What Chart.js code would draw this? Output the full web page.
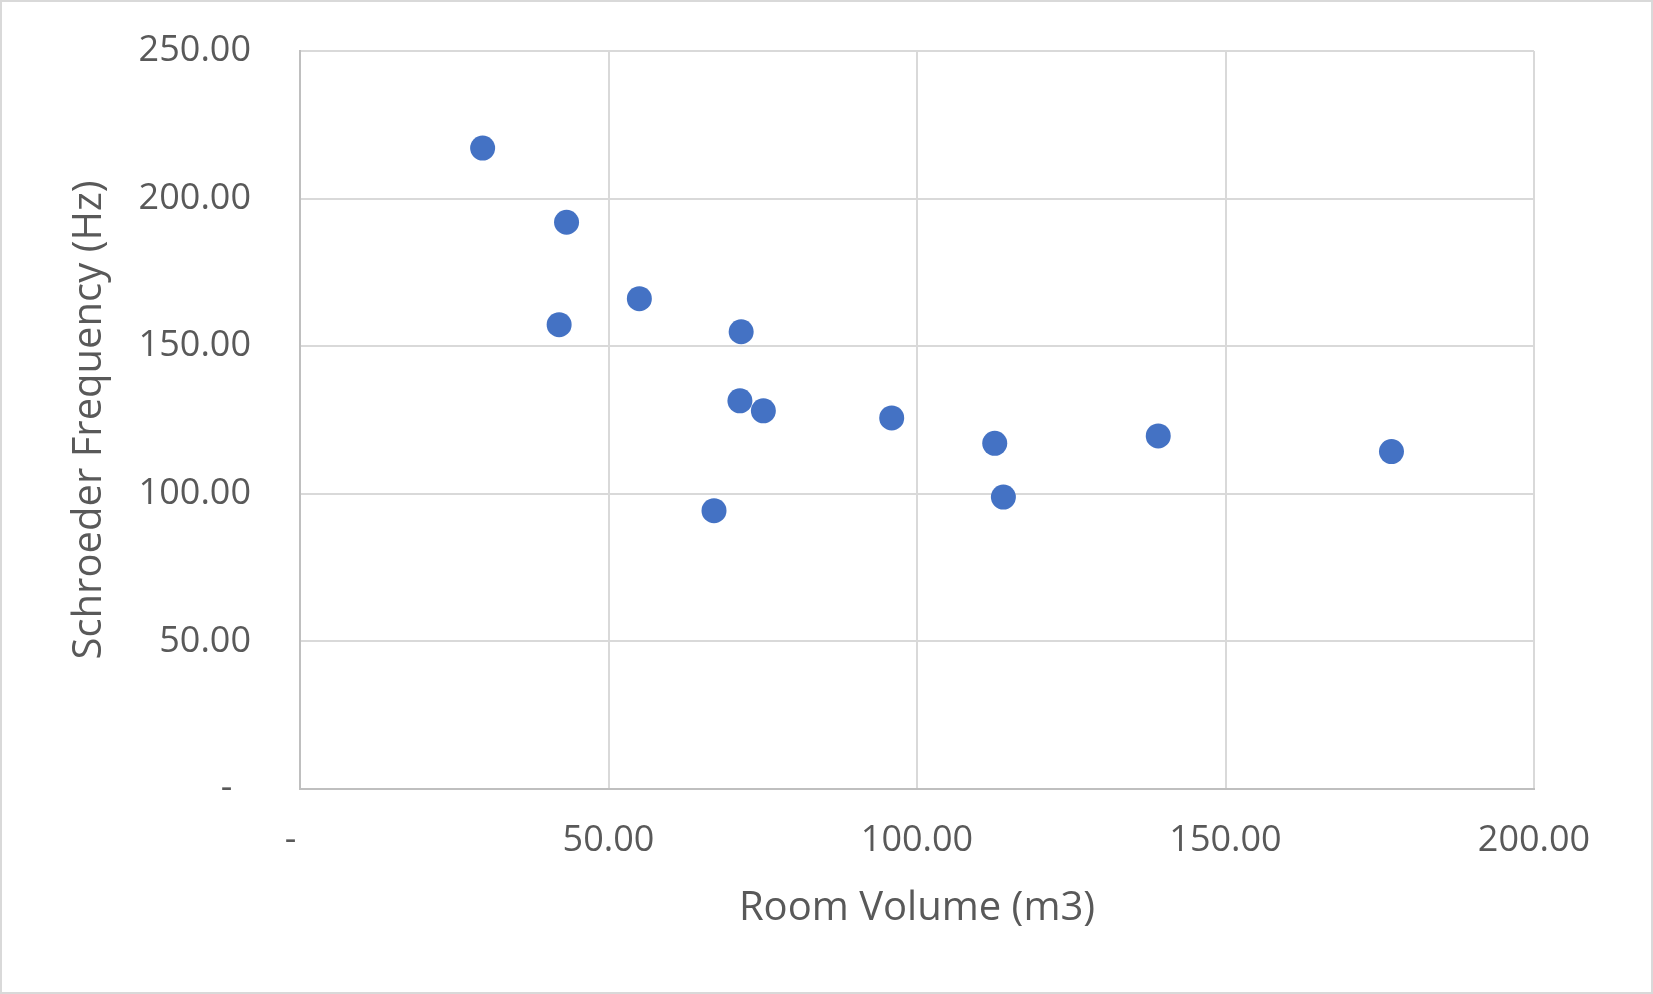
<!DOCTYPE html>
<html>
<head>
<meta charset="utf-8">
<script src="https://cdn.jsdelivr.net/npm/chart.js@4.4.1/dist/chart.umd.min.js"></script>
<style>
  html, body { margin: 0; padding: 0; background: #fff; }
  #wrap { width: 1653px; height: 994px; }
</style>
</head>
<body>
<div id="wrap"><canvas id="chart" width="1653" height="994"></canvas></div>
<script>
// room volume (m3) and schroeder frequency (Hz)
const roomVolume = [29.6, 43.2, 42.0, 55.0, 71.5, 71.3, 75.1, 67.1, 95.9, 112.6, 114.0, 139.1, 176.9];
const schroederFreq = [217.1, 192.0, 157.3, 166.1, 154.9, 131.5, 128.1, 94.3, 125.7, 117.1, 98.9, 119.6, 114.3];

const xTickLabels = ["-  ", "50.00", "100.00", "150.00", "200.00"];
const yTickLabels = ["-  ", "50.00", "100.00", "150.00", "200.00", "250.00"];

const textColor = "#595959";
const gridColor = "#d9d9d9";
const axisColor = "#bfbfbf";
const fontFamily = "'Open Sans', 'Noto Sans', sans-serif";

const points = roomVolume.map((v, i) => ({ x: v, y: schroederFreq[i] }));

const outerBorder = {
  id: "outerBorder",
  afterDraw(chart) {
    const ctx = chart.ctx;
    ctx.save();
    ctx.strokeStyle = gridColor;
    ctx.lineWidth = 2;
    ctx.strokeRect(1, 1, chart.width - 2, chart.height - 2);
    ctx.restore();
  },
};

new Chart(document.getElementById("chart").getContext("2d"), {
  type: "scatter",
  data: {
    datasets: [
      {
        label: "Schroeder Frequency",
        data: points,
        backgroundColor: "#4472C4",
        borderColor: "#4472C4",
        borderWidth: 0,
        pointRadius: 12.5,
        pointHoverRadius: 12.5,
      },
    ],
  },
  options: {
    responsive: false,
    animation: false,
    events: [],
    layout: {
      padding: { left: 0, right: 119, top: 51, bottom: 0 },
    },
    plugins: {
      legend: { display: false },
      tooltip: { enabled: false },
    },
    scales: {
      x: {
        type: "linear",
        min: 0,
        max: 200,
        afterFit(scale) {
          scale.height = 205;
          scale.paddingLeft = 0;
          scale.paddingRight = 0;
        },
        ticks: {
          stepSize: 50,
          color: textColor,
          padding: 30,
          maxRotation: 0,
          font: { family: fontFamily, size: 36 },
          callback: (value) => xTickLabels[Math.round(value / 50)],
        },
        grid: { color: gridColor, lineWidth: 2, drawTicks: false },
        border: { color: axisColor, width: 2 },
        title: {
          display: true,
          text: "Room Volume (m3)",
          color: textColor,
          font: { family: fontFamily, size: 40 },
          padding: { top: 0, bottom: 61 },
        },
      },
      y: {
        type: "linear",
        min: 0,
        max: 250,
        afterFit(scale) {
          scale.width = 300;
          scale.paddingTop = 0;
          scale.paddingBottom = 0;
        },
        ticks: {
          stepSize: 50,
          color: textColor,
          padding: 49,
          font: { family: fontFamily, size: 36 },
          callback: (value) => yTickLabels[Math.round(value / 50)],
        },
        grid: { color: gridColor, lineWidth: 2, drawTicks: false },
        border: { color: axisColor, width: 2 },
        title: {
          display: true,
          text: "Schroeder Frequency (Hz)",
          color: textColor,
          font: { family: fontFamily, size: 40 },
          padding: { top: 66, bottom: 0 },
        },
      },
    },
  },
  plugins: [outerBorder],
});
</script>
</body>
</html>
